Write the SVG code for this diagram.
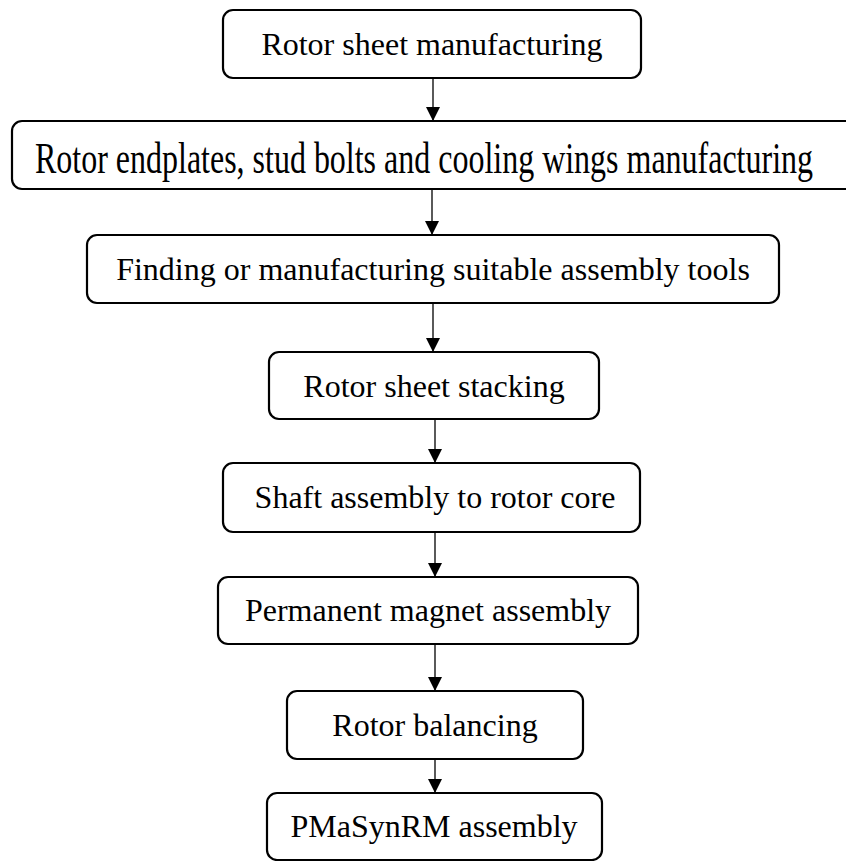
<svg xmlns="http://www.w3.org/2000/svg" width="846" height="861" viewBox="0 0 846 861">
<defs>
<style>
.box{fill:#fff;stroke:#000;stroke-width:2.2}
.lbl{font-family:"Liberation Serif","Times New Roman",serif;font-size:32px;fill:#000;text-anchor:middle}
.con{stroke:#000;stroke-width:1.3;fill:none;marker-end:url(#ah)}
</style>
<marker id="ah" markerUnits="userSpaceOnUse" markerWidth="14" markerHeight="14" viewBox="0 0 14 14" refX="14" refY="7" orient="auto">
<path d="M0,0 L14,7 L0,14 Z" fill="#000"/>
</marker>
</defs>
<rect width="846" height="861" fill="#fff"/>
<g id="connectors">
<line class="con" x1="433" y1="78" x2="433" y2="121"/>
<line class="con" x1="432" y1="189" x2="432" y2="235"/>
<line class="con" x1="433" y1="303" x2="433" y2="352"/>
<line class="con" x1="435" y1="419" x2="435" y2="463"/>
<line class="con" x1="435" y1="532" x2="435" y2="577"/>
<line class="con" x1="435" y1="644" x2="435" y2="691"/>
<line class="con" x1="435" y1="759" x2="435" y2="793"/>
</g>
<g id="n1">
<rect class="box" x="223" y="10" width="418" height="68" rx="10"/>
<text class="lbl" x="432" y="55">Rotor sheet manufacturing</text>
</g>
<g id="n2">
<rect class="box" x="12" y="121" width="845" height="68" rx="10"/>
<text class="lbl" x="424" y="173" style="font-size:45px" textLength="778" lengthAdjust="spacingAndGlyphs">Rotor endplates, stud bolts and cooling wings manufacturing</text>
</g>
<g id="n3">
<rect class="box" x="87" y="235" width="692" height="68" rx="10"/>
<text class="lbl" x="433" y="280">Finding or manufacturing suitable assembly tools</text>
</g>
<g id="n4">
<rect class="box" x="269" y="352" width="330" height="67" rx="10"/>
<text class="lbl" x="434" y="397">Rotor sheet stacking</text>
</g>
<g id="n5">
<rect class="box" x="223" y="463" width="417" height="69" rx="10"/>
<text class="lbl" x="435" y="508">Shaft assembly to rotor core</text>
</g>
<g id="n6">
<rect class="box" x="218" y="577" width="420" height="67" rx="10"/>
<text class="lbl" x="428" y="621">Permanent magnet assembly</text>
</g>
<g id="n7">
<rect class="box" x="287" y="691" width="296" height="68" rx="10"/>
<text class="lbl" x="435" y="736">Rotor balancing</text>
</g>
<g id="n8">
<rect class="box" x="267" y="793" width="335" height="67" rx="10"/>
<text class="lbl" x="434" y="837">PMaSynRM assembly</text>
</g>
</svg>
